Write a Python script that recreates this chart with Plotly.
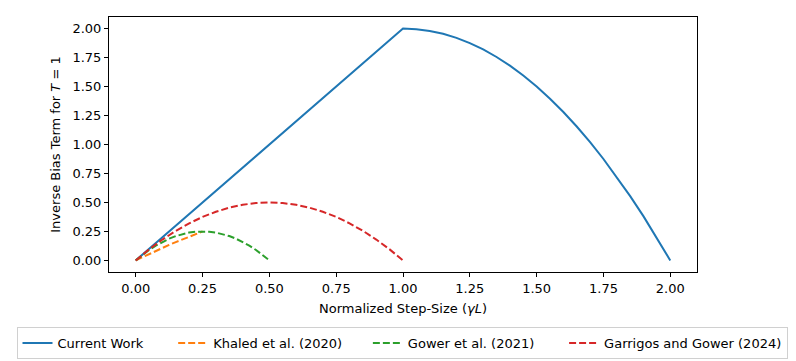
import plotly.graph_objects as go

# Current Work
cw_x = [0.0, 0.25, 0.5, 0.75, 1.0, 1.05, 1.1, 1.15, 1.2, 1.25, 1.3, 1.35, 1.4, 1.45, 1.5,
        1.55, 1.6, 1.65, 1.7, 1.75, 1.8, 1.85, 1.9, 1.95, 2.0]
cw_y = [0.0, 0.5, 1.0, 1.5, 2.0, 1.995, 1.98, 1.955, 1.92, 1.875, 1.82, 1.755, 1.68, 1.595, 1.5,
        1.395, 1.28, 1.155, 1.02, 0.875, 0.72, 0.555, 0.38, 0.195, 0.0]

# Khaled et al. (2020)
kh_x = [0.0, 0.025, 0.05, 0.075, 0.1, 0.125, 0.15, 0.175, 0.2, 0.225, 0.25]
kh_y = [0.0, 0.028, 0.056, 0.083, 0.109, 0.134, 0.158, 0.182, 0.205, 0.228, 0.25]

# Gower et al. (2021)
gw_x = [0.0, 0.025, 0.05, 0.075, 0.1, 0.125, 0.15, 0.175, 0.2, 0.225, 0.25,
        0.275, 0.3, 0.325, 0.35, 0.375, 0.4, 0.425, 0.45, 0.475, 0.5]
gw_y = [0.0, 0.0475, 0.09, 0.1275, 0.16, 0.1875, 0.21, 0.2275, 0.24, 0.2475, 0.25,
        0.2475, 0.24, 0.2275, 0.21, 0.1875, 0.16, 0.1275, 0.09, 0.0475, 0.0]

# Garrigos and Gower (2024)
gg_x = [0.0, 0.05, 0.1, 0.15, 0.2, 0.25, 0.3, 0.35, 0.4, 0.45, 0.5,
        0.55, 0.6, 0.65, 0.7, 0.75, 0.8, 0.85, 0.9, 0.95, 1.0]
gg_y = [0.0, 0.095, 0.18, 0.255, 0.32, 0.375, 0.42, 0.455, 0.48, 0.495, 0.5,
        0.495, 0.48, 0.455, 0.42, 0.375, 0.32, 0.255, 0.18, 0.095, 0.0]

tick_vals = [0.0, 0.25, 0.5, 0.75, 1.0, 1.25, 1.5, 1.75, 2.0]
tick_text = ["0.00", "0.25", "0.50", "0.75", "1.00", "1.25", "1.50", "1.75", "2.00"]

series_names = ["Current Work", "Khaled et al. (2020)", "Gower et al. (2021)",
                "Garrigos and Gower (2024)"]

FONT = "DejaVu Sans"
FS = 13
W, H = 796, 361
NB = "\u00a0"
# trailing non-breaking spaces only widen legend column spacing (matplotlib-like columns)
pads = [6, 5, 6, 0]
fig = go.Figure()
styles = [dict(color="#1f77b4", width=2),
          dict(color="#ff7f0e", width=2, dash="7px,3px"),
          dict(color="#2ca02c", width=2, dash="7px,3px"),
          dict(color="#d62728", width=2, dash="7px,3px")]
data = [(cw_x, cw_y), (kh_x, kh_y), (gw_x, gw_y), (gg_x, gg_y)]
for (xs, ys), nm, st, p in zip(data, series_names, styles, pads):
    fig.add_trace(go.Scatter(x=xs, y=ys, mode="lines", name=nm + NB * p, line=st))

axis_common = dict(
    showgrid=False, zeroline=False, showline=True, linecolor="black", linewidth=1,
    mirror=True, ticks="outside", ticklen=4, tickwidth=1, tickcolor="black",
    tickvals=tick_vals, ticktext=tick_text, tickfont=dict(family=FONT, size=FS, color="black"),
    automargin=False,
)

fig.update_layout(
    width=W, height=H,
    margin=dict(l=0, r=0, t=0, b=0, autoexpand=False),
    paper_bgcolor="white", plot_bgcolor="white",
    font=dict(family=FONT, size=FS, color="black"),
    xaxis=dict(range=[-0.1, 2.1], domain=[109 / W, 697 / W],
               title=dict(text="Normalized Step-Size (<i>γL</i>)",
                          font=dict(family=FONT, size=FS), standoff=9), **axis_common),
    yaxis=dict(range=[-0.1, 2.1], domain=[1 - 272 / H, 1 - 17 / H],
               title=dict(text="Inverse Bias Term for <i>T</i> = 1",
                          font=dict(family=FONT, size=FS), standoff=8), **axis_common),
    legend=dict(orientation="h", x=402 / W, xanchor="center", y=1 - 327 / H, yanchor="top",
                bordercolor="#d0d0d0", borderwidth=1, bgcolor="white",
                font=dict(family=FONT, size=FS), itemwidth=30),
    showlegend=True,
)

fig.write_html("out.html")
